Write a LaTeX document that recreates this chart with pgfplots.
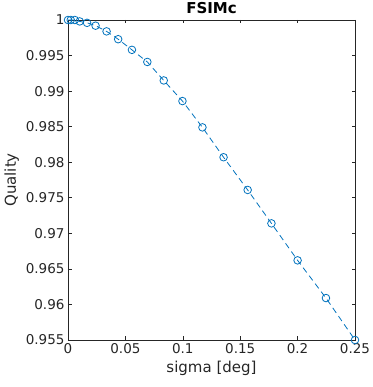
\documentclass[border=0pt]{standalone}
\usepackage{fontspec}
\setmainfont{DejaVu Sans}
\usepackage{pgfplots}
\pgfplotsset{compat=1.18}
\definecolor{mblue}{rgb}{0,0.447,0.741}
\definecolor{axgray}{rgb}{0.15,0.15,0.15}
\begin{document}
\begin{tikzpicture}
\useasboundingbox (-68pt,-47pt) rectangle (304pt,340pt);
\begin{axis}[
  at={(0pt,0pt)}, anchor=south west,
  scale only axis, width=287pt, height=320pt,
  xmin=0, xmax=0.25, ymin=0.955, ymax=1,
  xtick={0,0.05,0.1,0.15,0.2,0.25},
  xticklabels={0,0.05,0.1,0.15,0.2,0.25},
  ytick={0.955,0.96,0.965,0.97,0.975,0.98,0.985,0.99,0.995,1},
  yticklabels={0.955,0.96,0.965,0.97,0.975,0.98,0.985,0.99,0.995,1},
  tick align=inside, major tick length=3.5pt,
  axis line style={axgray, line width=0.6pt},
  every tick/.style={axgray, line width=0.6pt},
  tick label style={font=\fontsize{13.5}{15}\selectfont, text=axgray},
  /pgf/number format/assume math mode=true,
  xlabel={sigma [deg]}, ylabel={Quality},
  label style={font=\fontsize{15}{17}\selectfont, text=axgray},
  title={\textbf{FSIMc}},
  title style={font=\fontsize{15}{17}\selectfont, yshift=-3pt},
  clip=false,
]
\addplot[mblue, line width=0.8pt, dash pattern=on 6pt off 4pt,
  mark=o, mark size=3.8pt, mark options={solid, line width=0.8pt}]
  coordinates {
  (0,1.0000) (0.0024,1.0000) (0.0059,1.0000) (0.0102,0.9998)
  (0.0166,0.9996) (0.0240,0.9992) (0.0336,0.9984) (0.0437,0.9973)
  (0.0557,0.9958) (0.0691,0.9941) (0.0834,0.9915) (0.0997,0.9886)
  (0.1171,0.9849) (0.1355,0.9807) (0.1565,0.9761) (0.1772,0.9714)
  (0.2000,0.9662) (0.2247,0.9609) (0.2500,0.9550)
  };
\end{axis}
\end{tikzpicture}
\end{document}
